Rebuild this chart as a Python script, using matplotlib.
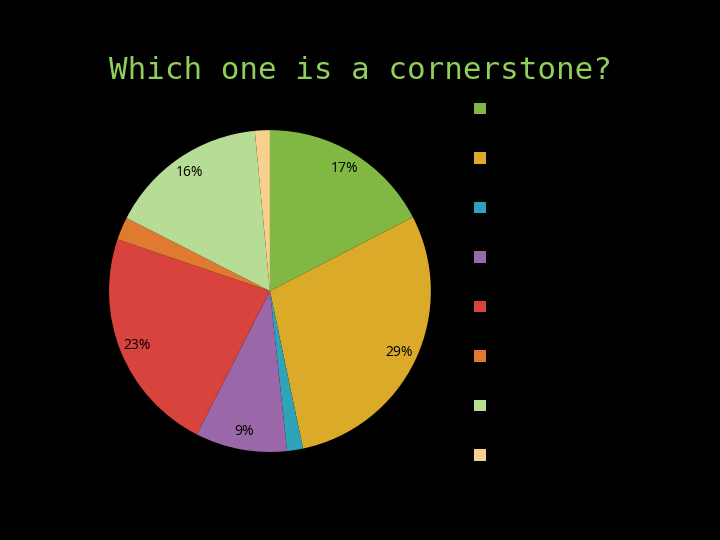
import matplotlib.pyplot as plt
from matplotlib.patches import Patch

title = "Which one is a cornerstone?"
categories = ["Option 1", "Option 2", "Option 3", "Option 4",
              "Option 5", "Option 6", "Option 7", "Option 8"]
values = [17.4, 29.3, 1.6, 9.2, 22.7, 2.3, 16.0, 1.5]
colors = ["#80b843", "#dbaa29", "#2fa3b8", "#9a68a8",
          "#d8433d", "#e07a30", "#b6dc95", "#f8d08e"]


def pct_label(p):
    # small slices get no label, as in the original
    return "%d%%" % round(p) if p >= 5 else ""


fig = plt.figure(figsize=(7.2, 5.4), dpi=100, facecolor="black")
fig.text(0.5, 0.87, title, ha="center", va="center", color="#8fcf5a",
         fontsize=22.2, family="DejaVu Sans Mono")

ax = fig.add_axes([0.1514, 0.163, 0.447, 0.596])
ax.set_facecolor("black")
wedges, texts, autotexts = ax.pie(values, colors=colors, startangle=90,
                                  counterclock=False, autopct=pct_label,
                                  pctdistance=0.89,
                                  wedgeprops={"linewidth": 0},
                                  textprops={"fontsize": 10, "color": "black",
                                             "family": "Open Sans"})
ax.set_xlim(-1, 1)
ax.set_ylim(-1, 1)
ax.set_aspect("equal")

handles = [Patch(facecolor=c, edgecolor="none") for c in colors]
leg = fig.legend(handles, categories, loc="upper left",
                 bbox_to_anchor=(0.638, 0.842), frameon=False,
                 fontsize=12, handlelength=0.7, handleheight=0.7,
                 labelspacing=1.89, handletextpad=0.8)
for t in leg.get_texts():
    t.set_color("black")

fig.savefig("out.png", dpi=100, facecolor="black")
